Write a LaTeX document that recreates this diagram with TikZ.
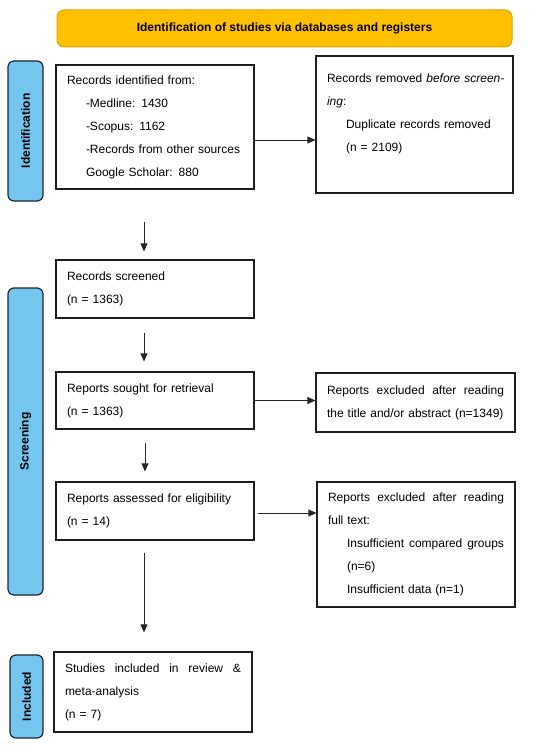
\documentclass[tikz,border=0pt]{standalone}
\usepackage{fontspec}
\setmainfont{Liberation Sans}
\usepackage{tikz}
\usetikzlibrary{arrows.meta, positioning, calc}
\definecolor{bannerfill}{HTML}{FFC000}
\definecolor{bannerline}{HTML}{E3A20C}
\definecolor{tabfill}{HTML}{74C6EE}
\definecolor{tabline}{HTML}{1C2433}
\definecolor{boxline}{HTML}{1E1E1E}
\newcommand{\ind}{\hspace*{19pt}}
\newcommand{\fillto}[2]{\makebox[#1][s]{\spaceskip=.3333em plus 1fil\relax#2}}
\newcommand{\fillline}[1]{\fillto{\hsize}{#1}}
\tikzset{
  >=Latex,
  font=\fontsize{12}{23}\selectfont,
  flowbox/.style={
    draw=boxline, fill=white, line width=1.1pt,
    align=left, inner xsep=11pt, text width=#1,
    font=\fontsize{12}{23}\selectfont
  },
  flowbox/.default=176pt,
  banner/.style={
    draw=bannerline, fill=bannerfill, line width=1pt, rounded corners=7pt,
    minimum width=455pt, minimum height=37pt, font=\fontsize{12}{14}\selectfont\bfseries
  },
  phase/.style={
    draw=tabline, fill=tabfill, line width=1.2pt, rounded corners=6pt,
    rotate=90, minimum height=35pt, font=\fontsize{12}{14}\selectfont\bfseries
  },
  arr/.style={-{Triangle[length=8pt,width=7pt]}, line width=0.8pt, draw=black!85}
}

\begin{document}
\begin{tikzpicture}[x=1pt,y=-1pt]
  \useasboundingbox (0,0) rectangle (550,746);

  % header and phase tabs
  \node[banner] (head) at (284.5,28.5) {Identification of studies via databases and registers};
  \node[phase,minimum width=140pt] (tabid) at (25.5,131) {Identification};
  \node[phase,minimum width=307pt] (tabscr) at (25.5,441.5) {Screening};
  \node[phase,minimum width=83pt,minimum height=33pt] (tabinc) at (26.5,696.5) {Included};

  % main column
  \node[flowbox,minimum height=124pt] (ident) at (155,127)
    {Records identified from:\\\ind-Medline: 1430\\\ind-Scopus: 1162\\\ind-Records from other sources\\\ind Google Scholar: 880};
  \node[flowbox,minimum height=58pt] (screen) at (155,289)
    {Records screened\\(n = 1363)};
  \node[flowbox,minimum height=57pt] (sought) at (155,400.5)
    {Reports sought for retrieval\\(n = 1363)};
  \node[flowbox,minimum height=58pt] (assessed) at (155,511)
    {Reports assessed for eligibility\\(n = 14)};
  \node[flowbox,minimum height=80pt] (studies) at (153,692)
    {\fillline{Studies included in review \&}\\meta-analysis\\(n = 7)};

  % side column
  \node[flowbox=175pt,minimum height=137pt] (removed) at (414.5,124.5)
    {\makebox[\hsize][l]{Records removed \textit{before screen-}}\\\textit{ing}:\\\ind Duplicate records removed\\\ind(n = 2109)\\\mbox{}};
  \node[flowbox=177pt,minimum height=59pt] (exclabs) at (415.5,402.5)
    {\fillline{Reports excluded after reading}\\the title and/or abstract (n=1349)};
  \node[flowbox=176pt,minimum height=125pt] (exclfull) at (416,544.5)
    {\fillline{Reports excluded after reading}\\full text:\\\ind\fillto{\dimexpr\hsize-19pt\relax}{Insufficient compared groups}\\\ind(n=6)\\\ind Insufficient data (n=1)};

  % arrows
  \draw[arr] ([yshift=-13pt]ident.east) -- ([yshift=-13pt]ident.east -| removed.west);
  \draw[arr] (sought.east) -- (sought.east -| exclabs.west);
  \draw[arr,shorten <=3pt] ([yshift=-2pt]assessed.east) -- ([yshift=-2pt]assessed.east -| exclfull.west);
  \draw[arr,shorten <=32pt,shorten >=8pt] ([xshift=-11pt]ident.south) -- ([xshift=-11pt]screen.north);
  \draw[arr,shorten <=14pt,shorten >=10pt] ([xshift=-11pt]screen.south) -- ([xshift=-11pt]sought.north);
  \draw[arr,shorten <=13pt,shorten >=10pt] ([xshift=-10pt]sought.south) -- ([xshift=-10pt]assessed.north);
  \draw[arr,shorten <=12pt,shorten >=19pt] ([xshift=-11pt]assessed.south) -- ([xshift=-9pt]studies.north);
\end{tikzpicture}
\end{document}
